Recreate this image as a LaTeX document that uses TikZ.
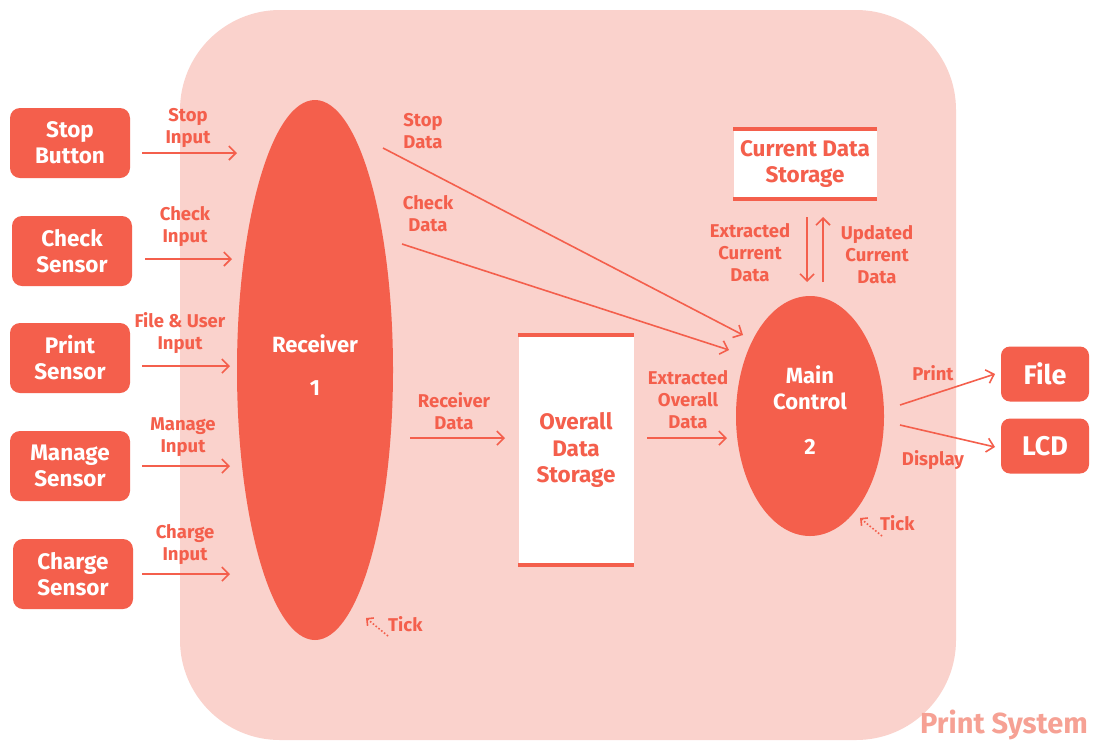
\documentclass[tikz,border=0pt]{standalone}
\usepackage{fontspec}
\setmainfont{Fira Sans}
\usetikzlibrary{shapes.geometric,arrows.meta}
\definecolor{main}{HTML}{F45F4C}
\definecolor{bg}{HTML}{FAD2CC}
\definecolor{lite}{HTML}{F6A194}
\begin{document}
\begin{tikzpicture}[x=1pt,y=-1pt,
 ext/.style={fill=main, rounded corners=10pt, minimum width=120pt, minimum height=70pt, text=white, font=\bfseries\fontsize{22.5}{26}\selectfont, align=center, inner sep=0pt},
 outbox/.style={fill=main, rounded corners=9pt, minimum width=88pt, minimum height=55pt, text=white, font=\bfseries\fontsize{27}{30}\selectfont, inner sep=0pt},
 proc/.style={ellipse, fill=main, inner sep=0pt},
 ptext/.style={text=white, font=\bfseries\fontsize{22}{26}\selectfont, align=center, inner sep=0pt},
 store/.style={fill=white, inner sep=0pt, text=main, font=\bfseries\fontsize{22.5}{26.5}\selectfont, align=center},
 bar/.style={draw=main, line width=4pt},
 lbl/.style={text=main, font=\bfseries\fontsize{18.5}{22}\selectfont, align=center, inner sep=0pt},
 flow/.style={draw=main, line width=1.6pt, -{Straight Barb[length=7pt,width=14pt,line width=1.6pt]}},
 tickarr/.style={draw=main, line width=1.6pt, dotted, -{Straight Barb[length=5pt,width=10pt,line width=1.6pt]}}
]
\useasboundingbox (0,0) rectangle (1094,740);
\fill[white] (0,0) rectangle (1094,740);
% system boundary
\fill[bg, rounded corners=100pt] (180,10) rectangle (956,740);
\node[text=lite, font=\bfseries\fontsize{29}{32}\selectfont, anchor=base east, inner sep=0pt] (sys) at (1088,733) {Print System};

% external entities
\node[ext] (stop) at (70,143) {Stop\\Button};
\node[ext] (check) at (72,251) {Check\\Sensor};
\node[ext] (print) at (70,358) {Print\\Sensor};
\node[ext] (manage) at (70,466) {Manage\\Sensor};
\node[ext] (charge) at (73,574) {Charge\\Sensor};
\node[outbox] (file) at (1045,374) {File};
\node[outbox] (lcd) at (1045,446) {LCD};

% processes
\node[proc, minimum width=156pt, minimum height=540pt] (recv) at (315,370) {};
\node[ptext] (recvt) at (315,344) {Receiver};
\node[ptext] (recvn) at (315,388) {1};
\node[proc, minimum width=148pt, minimum height=240pt] (mc) at (810,416) {};
\node[ptext] (mct) at (810,388) {Main\\Control};
\node[ptext] (mcn) at (810,447) {2};

% stores
\node[store, minimum width=115pt, minimum height=230pt] (ods) at (576,450) {Overall\\Data\\Storage};
\draw[bar] (ods.north west) -- (ods.north east);
\draw[bar] (ods.south west) -- (ods.south east);
\node[store, minimum width=143pt, minimum height=69pt] (cds) at (805,164) {Current Data\\Storage};
\draw[bar] (cds.north west) -- (cds.north east);
\draw[bar] (cds.south west) -- (cds.south east);

% input flows
\coordinate (a1) at (142,153); \coordinate (b1) at (237,153);
\coordinate (a2) at (145,259); \coordinate (b2) at (232,259);
\coordinate (a3) at (142,366); \coordinate (b3) at (230,366);
\coordinate (a4) at (142,466); \coordinate (b4) at (230,466);
\coordinate (a5) at (142,574); \coordinate (b5) at (230,574);
\draw[flow] (a1) -- (b1);
\draw[flow] (a2) -- (b2);
\draw[flow] (a3) -- (b3);
\draw[flow] (a4) -- (b4);
\draw[flow] (a5) -- (b5);
\node[lbl] (l1) at (188,128) {Stop\\Input};
\node[lbl] (l2) at (185,227) {Check\\Input};
\node[lbl] (l3) at (180,333) {File \& User\\Input};
\node[lbl] (l4) at (183,437) {Manage\\Input};
\node[lbl] (l5) at (185,545) {Charge\\Input};

% receiver to main control
\coordinate (sd1) at (383,148); \coordinate (sd2) at (743,335);
\coordinate (cd1) at (402,244); \coordinate (cd2) at (729,350);
\draw[flow] (sd1) -- (sd2);
\draw[flow] (cd1) -- (cd2);
\node[lbl] (lsd) at (423,131) {Stop\\Data};
\node[lbl] (lcd1) at (428,214) {Check\\Data};

% receiver data
\coordinate (rd1) at (410,438); \coordinate (rd2) at (505,438);
\draw[flow] (rd1) -- (rd2);
\node[lbl] (lrd) at (454,411) {Receiver\\Data};

% extracted overall data
\coordinate (eo1) at (647,438); \coordinate (eo2) at (727,438);
\draw[flow] (eo1) -- (eo2);
\node[lbl] (leo) at (688,400) {Extracted\\Overall\\Data};

% current data storage flows
\coordinate (ec1) at (807,217); \coordinate (ec2) at (807,282);
\coordinate (uc1) at (823,282); \coordinate (uc2) at (823,217);
\draw[flow] (ec1) -- (ec2);
\draw[flow] (uc1) -- (uc2);
\node[lbl] (lec) at (750,253) {Extracted\\Current\\Data};
\node[lbl] (luc) at (877,255) {Updated\\Current\\Data};

% outputs
\coordinate (p1) at (900,405); \coordinate (p2) at (995,374);
\coordinate (d1) at (900,425); \coordinate (d2) at (995,447);
\draw[flow] (p1) -- (p2);
\draw[flow] (d1) -- (d2);
\node[lbl] (lp) at (933,373) {Print};
\node[lbl] (ld) at (933,460) {Display};

% ticks
\coordinate (t1a) at (388,636); \coordinate (t1b) at (366,618);
\draw[tickarr] (t1a) -- (t1b);
\node[lbl, anchor=west] (lt1) at (388,624) {Tick};
\coordinate (t2a) at (882,536); \coordinate (t2b) at (860,518);
\draw[tickarr] (t2a) -- (t2b);
\node[lbl, anchor=west] (lt2) at (880,523) {Tick};
\end{tikzpicture}
\end{document}
